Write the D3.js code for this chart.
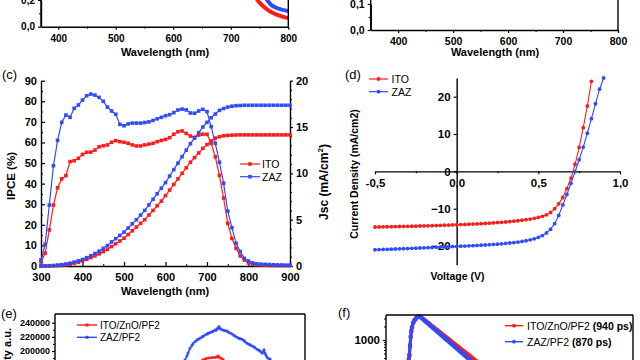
<!DOCTYPE html>
<html><head><meta charset="utf-8">
<script src="https://cdn.jsdelivr.net/npm/d3@7"></script>
<style>
body{margin:0;background:#fff}
svg{display:block;font-family:"Liberation Sans",Arial,sans-serif}
</style></head><body><svg id="c" width="640" height="360"></svg>
<script>
// ---------- DATA ----------
// (a) transmittance-like curves near 800 nm
const aWl   = [740,750,760,770,780,790,800];
const aITO  = [0.24,0.18,0.14,0.11,0.09,0.075,0.064];
const aZAZ  = [0.40,0.30,0.22,0.165,0.14,0.126,0.118];
const aXTicks = [400,500,600,700,800];
const bXTicks = [400,500,600,700,800];

// (c) IPCE and integrated Jsc
const cWl = [300,310,320,330,340,350,360,370,380,390,400,410,420,430,440,450,460,470,480,490,500,510,520,530,540,550,560,570,580,590,600,610,620,630,640,650,660,670,680,690,700,710,720,730,740,750,760,770,780,790,800,810,820,830,840,850,860,870,880,890,900];
const ipceITO = [2,6.2,17.5,29.6,38,42.3,43.9,50.7,51.1,52.3,54.2,55.2,55.3,56.3,57.9,58.4,58.8,60.1,60.9,60.4,60.1,59.6,58.8,58.3,58.3,58.8,59.2,59.6,60.4,61,61.5,62.3,64,65.2,65.6,64.4,63.1,62.5,63.6,64,64,59.6,53,44,33,20.7,13.4,8.6,4.9,2.9,1.5,0.9,0.6,0.5,0.4,0.3,0.3,0.3,0.2,0.2,0.2];
const ipceZAZ = [3,10.5,29.6,48.7,61,69.8,73.3,72.2,76.6,78.2,80.6,82.7,83.5,83,81.9,80,77.2,75.3,73.7,68.8,68.1,69,69.4,69.4,69.4,69.7,70,70.7,71.5,72.2,73,73.5,74.5,75.8,76.2,75.8,74.3,74.2,75.3,76.1,75,67.7,59.6,50.4,40.2,26.7,18.6,11,7,3.7,2.4,1.5,1.1,0.9,0.8,0.7,0.6,0.5,0.5,0.4,0.4];
const jscITO = [0,0,0.01,0.02,0.04,0.07,0.12,0.2,0.3,0.4,0.55,0.72,0.9,1.1,1.3,1.55,1.8,2.1,2.4,2.7,3.0,3.4,3.8,4.2,4.6,5.0,5.5,6.0,6.5,7.0,7.6,8.2,8.8,9.4,10.0,10.6,11.2,11.7,12.2,12.7,13.1,13.5,13.8,13.95,14.05,14.1,14.12,14.14,14.15,14.15,14.15,14.15,14.15,14.15,14.15,14.15,14.15,14.15,14.15,14.15,14.15];
const jscZAZ = [0,0.01,0.03,0.06,0.1,0.15,0.22,0.3,0.42,0.55,0.7,0.9,1.1,1.35,1.6,1.9,2.2,2.6,2.95,3.3,3.65,4.1,4.55,5.0,5.5,6.0,6.6,7.2,7.8,8.4,9.0,9.7,10.4,11.1,11.8,12.5,13.2,13.8,14.4,15.0,15.5,16.0,16.4,16.8,17.0,17.15,17.25,17.3,17.32,17.35,17.35,17.35,17.35,17.35,17.35,17.35,17.35,17.35,17.35,17.35,17.35];
const cXTicks = [300,400,500,600,700,800,900];
const cLTicks = [0,10,20,30,40,50,60,70,80,90];
const cRTicks = [0,5,10,15,20];

// (d) J-V curves
const dV_ITO = [-0.5,-0.475,-0.45,-0.425,-0.4,-0.375,-0.35,-0.325,-0.3,-0.275,-0.25,-0.225,-0.2,-0.175,-0.15,-0.125,-0.1,-0.075,-0.05,-0.025,0,0.025,0.05,0.075,0.1,0.125,0.15,0.175,0.2,0.225,0.25,0.275,0.3,0.325,0.35,0.375,0.4,0.425,0.45,0.475,0.5,0.525,0.55,0.575,0.6,0.625,0.65,0.675,0.7,0.725,0.75,0.775,0.8,0.825];
const dJ_ITO = [-14.9,-14.88,-14.86,-14.84,-14.82,-14.8,-14.77,-14.75,-14.72,-14.7,-14.67,-14.64,-14.61,-14.58,-14.55,-14.51,-14.48,-14.44,-14.4,-14.36,-14.3,-14.26,-14.22,-14.17,-14.12,-14.07,-14.01,-13.95,-13.88,-13.81,-13.73,-13.65,-13.56,-13.46,-13.35,-13.23,-13.1,-12.95,-12.78,-12.58,-12.35,-12.05,-11.65,-11.0,-10.0,-8.7,-7.0,-4.6,-1.8,1.9,6.4,11.7,17.5,24.1];
const dV_ZAZ = [-0.5,-0.475,-0.45,-0.425,-0.4,-0.375,-0.35,-0.325,-0.3,-0.275,-0.25,-0.225,-0.2,-0.175,-0.15,-0.125,-0.1,-0.075,-0.05,-0.025,0,0.025,0.05,0.075,0.1,0.125,0.15,0.175,0.2,0.225,0.25,0.275,0.3,0.325,0.35,0.375,0.4,0.425,0.45,0.475,0.5,0.525,0.55,0.575,0.6,0.625,0.65,0.675,0.7,0.725,0.75,0.775,0.8,0.825,0.85,0.875,0.9];
const dJ_ZAZ = [-21.0,-20.96,-20.92,-20.88,-20.84,-20.8,-20.76,-20.72,-20.67,-20.62,-20.58,-20.53,-20.49,-20.44,-20.39,-20.34,-20.29,-20.24,-20.19,-20.15,-20.1,-20.05,-20.0,-19.95,-19.9,-19.84,-19.78,-19.72,-19.65,-19.57,-19.49,-19.4,-19.3,-19.19,-19.07,-18.93,-18.77,-18.58,-18.35,-18.07,-17.7,-17.2,-16.5,-15.5,-14.0,-11.8,-9.0,-6.2,-3.2,-0.1,3.1,6.5,10.2,14.1,18.1,22.0,25.0];
const dXTicks = [-0.5,0,0.5,1.0];
const dYTicks = [-20,-10,0,10,20];

// (e) PL spectra
const eWl_ZAZ = [500,505,508,510,512,513,515,517,518,520,522,523,525,527,528,530,532,533,535,537,538,540,541,542,543,544,545,546,548,550,552,553,555,557,559,560,562,564,565,567,569,570,572,574,575,577,579,580,582,584,585,587,588,589,590,591,592,594,595,597,600,605];
const ePL_ZAZ = [168000,178000,183000,187300,193000,197000,203800,208000,210500,213100,215500,216500,218000,219800,220500,222600,223800,224800,225900,227000,227800,229700,229200,231000,232500,234300,231500,230700,229500,228700,228200,226800,225500,224000,222000,221000,219400,218000,217300,216500,214800,213000,210900,209600,208500,207100,205800,204500,202400,201000,199800,197000,198500,201500,196800,194000,191100,189000,188300,185500,182000,175000];
const eWl_ITO = [518,522,525,528,531,534,537,540,542,543,544,546,548,551,555];
const ePL_ITO = [180000,183000,185500,187500,189300,190200,190700,191000,191500,193000,191300,189800,187800,185000,181500];
const eYTicks = [200000,220000,240000];

// (f) TRPL decay
const fT = [0.8,0.85,0.875,0.9,0.925,0.95,0.975,1.0,1.05,1.1,1.15,1.2,1.25,1.3,1.35,1.4,1.45,1.5,1.55,1.6,1.65,1.7,1.75,1.8,1.85,1.9,1.95,2.0,2.05,2.1,2.15,2.2,2.25,2.3,2.35,2.4,2.45,2.5,2.55,2.6,2.65,2.7,2.75,2.8,2.85,2.9,2.95,3.0,3.05,3.1,3.15,3.2,3.25,3.3,3.35,3.4,3.45,3.5,3.55,3.6];
const fITO = [140,290,380,480,780,1220,1620,1960,2450,2800,3040,3230,3320,3300,3190,3030,2875,2725,2585,2450,2325,2205,2090,1985,1880,1785,1690,1605,1520,1443,1368,1298,1231,1168,1108,1051,997,946,897,851,807,766,726,689,654,620,588,558,529,502,476,452,429,407,386,366,347,329,312,296];
const fZAZ = [120,260,340,440,720,1150,1550,1900,2400,2750,3000,3200,3300,3280,3150,2980,2810,2650,2500,2360,2230,2100,1985,1875,1770,1670,1575,1487,1404,1325,1250,1180,1114,1052,993,937,885,835,788,744,702,663,626,591,558,526,497,469,443,418,395,372,352,332,313,296,279,264,249,235];

// ---------- DRAW ----------
const RED = '#ff1a1a', BLUE = '#2e4bff';
const FONT = '"Liberation Sans", Arial, sans-serif';
const svg = d3.select('#c');
svg.append('rect').attr('width',640).attr('height',360).attr('fill','#fff');

const comma = d => d3.format('.1f')(d).replace('.', ',').replace('\u2212','-');

function styleAxis(g, fs){
  g.attr('font-family', FONT);
  g.selectAll('.domain').attr('stroke','#000').attr('stroke-width',1.4);
  g.selectAll('.tick line').attr('stroke','#000').attr('stroke-width',1.2);
  g.selectAll('.tick text').attr('font-size',fs).attr('font-weight','bold').attr('fill','#000');
}
function minorAxis(g){ g.select('.domain').remove(); g.selectAll('.tick line').attr('stroke','#000').attr('stroke-width',1); }
function text(x,y,str,opt={}){
  const t = svg.append('text').attr('x',x).attr('y',y).text(str)
    .attr('font-family',FONT).attr('font-size',opt.size||11)
    .attr('font-weight',opt.bold?'bold':'normal').attr('fill','#000')
    .attr('text-anchor',opt.anchor||'start');
  if(opt.rotate){ t.attr('transform',`rotate(-90,${x},${y})`); }
  return t;
}
function vline(x,y1,y2){ svg.append('line').attr('x1',x).attr('x2',x).attr('y1',y1).attr('y2',y2).attr('stroke','#000').attr('stroke-width',1.4); }
function hline(y,x1,x2){ svg.append('line').attr('x1',x1).attr('x2',x2).attr('y1',y).attr('y2',y).attr('stroke','#000').attr('stroke-width',1.4); }

// ===== (a) =====
{
  const x = d3.scaleLinear([370,800],[41,288.3]);
  const y = d3.scaleLinear([0,0.2],[26.7,0]);
  const g = svg.append('g');
  g.append('g').attr('transform','translate(0,26.7)')
    .call(d3.axisBottom(x).tickValues([450,550,650,750]).tickSize(2).tickFormat('')).call(minorAxis);
  g.append('g').attr('transform','translate(0,26.7)')
    .call(d3.axisBottom(x).tickValues(aXTicks).tickSize(3).tickSizeOuter(0).tickPadding(5)).call(styleAxis,10);
  g.append('g').attr('transform','translate(41,0)')
    .call(d3.axisLeft(y).tickValues([0.1]).tickSize(2).tickFormat('')).call(minorAxis);
  g.append('g').attr('transform','translate(41,0)')
    .call(d3.axisLeft(y).tickValues([0,0.2]).tickSize(3).tickSizeOuter(0).tickPadding(3).tickFormat(comma)).call(styleAxis,10);
  vline(41,-5,26.7); vline(288.3,-5,26.7);
  const ln = d3.line().x((d,i)=>x(aWl[i])).y(d=>y(d)).curve(d3.curveMonotoneX);
  g.append('path').attr('d',ln(aZAZ)).attr('fill','none').attr('stroke',BLUE).attr('stroke-width',4);
  g.append('path').attr('d',ln(aITO)).attr('fill','none').attr('stroke',RED).attr('stroke-width',4);
  text(165,56,'Wavelength (nm)',{bold:true,anchor:'middle',size:11});
}
// ===== (b) =====
{
  const x = d3.scaleLinear([350,800],[370.7,618]);
  const y = d3.scaleLinear([0,0.1],[30,4]);
  const g = svg.append('g');
  g.append('g').attr('transform','translate(0,30)')
    .call(d3.axisBottom(x).tickValues([450,550,650,750]).tickSize(2).tickFormat('')).call(minorAxis);
  g.append('g').attr('transform','translate(0,30)')
    .call(d3.axisBottom(x).tickValues(bXTicks).tickSize(3).tickSizeOuter(0).tickPadding(5)).call(styleAxis,10.5);
  g.append('g').attr('transform','translate(370.7,0)')
    .call(d3.axisLeft(y).tickValues([0.05,0.15]).tickSize(2).tickFormat('')).call(minorAxis);
  g.append('g').attr('transform','translate(370.7,0)')
    .call(d3.axisLeft(y).tickValues([0,0.1]).tickSize(3).tickSizeOuter(0).tickPadding(3).tickFormat(comma)).call(styleAxis,10.5);
  vline(370.7,-5,30); vline(618,-5,30);
  text(495,56,'Wavelength (nm)',{bold:true,anchor:'middle',size:11});
}
// ===== (c) =====
{
  const x = d3.scaleLinear([300,900],[41,290]);
  const yL = d3.scaleLinear([0,90],[266,80.7]);
  const yR = d3.scaleLinear([0,20],[266,80.7]);
  const g = svg.append('g');
  g.append('g').attr('transform','translate(0,266)')
    .call(d3.axisBottom(x).tickValues([350,450,550,650,750,850]).tickSize(-2).tickFormat('')).call(minorAxis);
  g.append('g').attr('transform','translate(0,266)')
    .call(d3.axisBottom(x).tickValues(cXTicks).tickSize(-4).tickSizeOuter(0).tickPadding(7)).call(styleAxis,11);
  g.append('g').attr('transform','translate(41,0)')
    .call(d3.axisLeft(yL).tickValues([5,15,25,35,45,55,65,75,85]).tickSize(-2).tickFormat('')).call(minorAxis);
  g.append('g').attr('transform','translate(41,0)')
    .call(d3.axisLeft(yL).tickValues(cLTicks).tickSize(-4).tickSizeOuter(0).tickPadding(4)).call(styleAxis,11);
  g.append('g').attr('transform','translate(290,0)')
    .call(d3.axisRight(yR).tickValues(d3.range(1,20).filter(v=>v%5)).tickSize(2).tickFormat('')).call(minorAxis);
  g.append('g').attr('transform','translate(290,0)')
    .call(d3.axisRight(yR).tickValues(cRTicks).tickSize(3).tickSizeOuter(0).tickPadding(3)).call(styleAxis,11);

  const series = [
    {v:jscITO, s:yR, c:RED}, {v:ipceITO, s:yL, c:RED},
    {v:jscZAZ, s:yR, c:BLUE}, {v:ipceZAZ, s:yL, c:BLUE}
  ];
  series.forEach(sr=>{
    const ln = d3.line().x((d,i)=>x(cWl[i])).y(d=>sr.s(d));
    g.append('path').attr('d',ln(sr.v)).attr('fill','none').attr('stroke',sr.c).attr('stroke-width',1.2);
    g.selectAll(null).data(sr.v).join('rect')
      .attr('x',(d,i)=>x(cWl[i])-1.8).attr('y',d=>sr.s(d)-1.8).attr('width',3.6).attr('height',3.6).attr('fill',sr.c);
  });
  // legend
  [['ITO',RED,164],['ZAZ',BLUE,176.7]].forEach(([lab,col,yy])=>{
    g.append('line').attr('x1',240).attr('x2',260).attr('y1',yy).attr('y2',yy).attr('stroke',col).attr('stroke-width',1.2);
    g.append('rect').attr('x',248.2).attr('y',yy-1.8).attr('width',3.6).attr('height',3.6).attr('fill',col);
    text(262,yy+3.8,lab,{size:10.5});
  });
  text(165,295,'Wavelength (nm)',{bold:true,anchor:'middle',size:11});
  text(15,176,'IPCE (%)',{bold:true,anchor:'middle',size:11.5,rotate:true});
  const jt = text(328,182,'',{bold:true,anchor:'middle',size:12,rotate:true});
  jt.append('tspan').text('Jsc (mA/cm');
  jt.append('tspan').text('2').attr('font-size',8).attr('dy',-5);
  jt.append('tspan').text(')').attr('dy',5);
  text(2,79,'(c)',{size:13});
}
// ===== (d) =====
{
  const x = d3.scaleLinear([-0.5,1.0],[375,620]);
  const y = d3.scaleLinear([-25,25],[264.7,78]);
  const g = svg.append('g');
  g.append('g').attr('transform',`translate(0,${y(0)})`)
    .call(d3.axisBottom(x).tickValues([-0.25,0.25,0.75]).tickSize(2).tickFormat('')).call(minorAxis);
  g.append('g').attr('transform',`translate(0,${y(0)})`)
    .call(d3.axisBottom(x).tickValues(dXTicks).tickSize(3).tickSizeOuter(0).tickPadding(4).tickFormat(comma)).call(styleAxis,11.5);
  g.append('g').attr('transform',`translate(${x(0)},0)`)
    .call(d3.axisLeft(y).tickValues(dYTicks).tickSize(3).tickSizeOuter(0).tickPadding(3)).call(styleAxis,11.5);
  const sets = [[dV_ITO,dJ_ITO,RED],[dV_ZAZ,dJ_ZAZ,BLUE]];
  sets.forEach(([vv,jj,col])=>{
    const ln = d3.line().x((d,i)=>x(vv[i])).y(d=>y(d));
    g.append('path').attr('d',ln(jj)).attr('fill','none').attr('stroke',col).attr('stroke-width',1.1);
    g.selectAll(null).data(jj).join('circle')
      .attr('cx',(d,i)=>x(vv[i])).attr('cy',d=>y(d)).attr('r',1.9).attr('fill',col);
  });
  [['ITO',RED,79],['ZAZ',BLUE,91.7]].forEach(([lab,col,yy])=>{
    g.append('line').attr('x1',369).attr('x2',388).attr('y1',yy).attr('y2',yy).attr('stroke',col).attr('stroke-width',1.2);
    g.append('circle').attr('cx',378.5).attr('cy',yy).attr('r',1.9).attr('fill',col);
    text(391.5,yy+3.8,lab,{size:10.5});
  });
  text(457.5,280,'Voltage (V)',{bold:true,anchor:'middle',size:10.5});
  text(358,174,'Current Density (mA/cm2)',{bold:true,anchor:'middle',size:10.5,rotate:true});
  text(345,79,'(d)',{size:13});
}
// ===== (e) =====
{
  const x = d3.scaleLinear([380,630],[55,305]);
  const y = d3.scaleLinear([200000,240000],[351,322.7]);
  const g = svg.append('g');
  g.append('g').attr('transform','translate(55,0)')
    .call(d3.axisLeft(y).tickValues([190000,210000,230000]).tickSize(2).tickFormat('')).call(minorAxis);
  g.append('g').attr('transform','translate(55,0)')
    .call(d3.axisLeft(y).tickValues(eYTicks).tickSize(3).tickSizeOuter(0).tickPadding(2).tickFormat(d3.format('d'))).call(styleAxis,9);
  g.selectAll('.domain').remove();
  vline(55,314,362); vline(305,314,362); hline(314,55,305);
  const sets = [[eWl_ZAZ,ePL_ZAZ,BLUE],[eWl_ITO,ePL_ITO,RED]];
  sets.forEach(([ww,pp,col])=>{
    const ln = d3.line().x((d,i)=>x(ww[i])).y(d=>y(d));
    g.append('path').attr('d',ln(pp)).attr('fill','none').attr('stroke',col).attr('stroke-width',1.6);
    g.selectAll(null).data(pp).join('rect')
      .attr('x',(d,i)=>x(ww[i])-1.3).attr('y',d=>y(d)-1.3).attr('width',2.6).attr('height',2.6).attr('fill',col);
  });
  [['ITO/ZnO/PF2',RED,325],['ZAZ/PF2',BLUE,337.3]].forEach(([lab,col,yy])=>{
    g.append('line').attr('x1',77).attr('x2',97).attr('y1',yy).attr('y2',yy).attr('stroke',col).attr('stroke-width',1.4);
    g.append('rect').attr('x',85.5).attr('y',yy-1.5).attr('width',3).attr('height',3).attr('fill',col);
    text(100,yy+3.6,lab,{size:10});
  });
  text(11,328,'Intensity a.u.',{bold:true,anchor:'end',size:11,rotate:true});
  text(1,318,'(e)',{size:13});
}
// ===== (f) =====
{
  const x = d3.scaleLinear([0,9.5],[386,633]);
  const y = d3.scaleLog([100,10000],[385,295]);
  const g = svg.append('g');
  g.append('g').attr('transform','translate(386,0)')
    .call(d3.axisLeft(y).tickValues([400,500,600,700,800,900,2000,3000]).tickSize(2).tickFormat('')).call(minorAxis);
  g.append('g').attr('transform','translate(386,0)')
    .call(d3.axisLeft(y).tickValues([1000]).tickSize(3).tickSizeOuter(0).tickPadding(3).tickFormat(d3.format('d'))).call(styleAxis,11.5);
  g.selectAll('.domain').remove();
  vline(386,315,362); vline(633,315,362); hline(315,386,633);
  const sets = [[fITO,RED],[fZAZ,BLUE]];
  sets.forEach(([cc,col])=>{
    const ln = d3.line().x((d,i)=>x(fT[i])).y(d=>y(d));
    g.append('path').attr('d',ln(cc)).attr('fill','none').attr('stroke',col).attr('stroke-width',3);
    g.selectAll(null).data(cc).join('circle')
      .attr('cx',(d,i)=>x(fT[i])).attr('cy',d=>y(d)).attr('r',2.2).attr('fill',col);
  });
  [['ITO/ZnO/PF2 ','(940 ps)',RED,325.7],['ZAZ/PF2 ','(870 ps)',BLUE,341.7]].forEach(([lab,b,col,yy])=>{
    g.append('line').attr('x1',505).attr('x2',523).attr('y1',yy).attr('y2',yy).attr('stroke',col).attr('stroke-width',1.4);
    g.append('circle').attr('cx',514).attr('cy',yy).attr('r',1.9).attr('fill',col);
    const t = text(527,yy+3.8,'',{size:10.5});
    t.append('tspan').text(lab);
    t.append('tspan').text(b).attr('font-weight','bold');
  });
  text(338,317,'(f)',{size:13});
}
</script></body></html>
